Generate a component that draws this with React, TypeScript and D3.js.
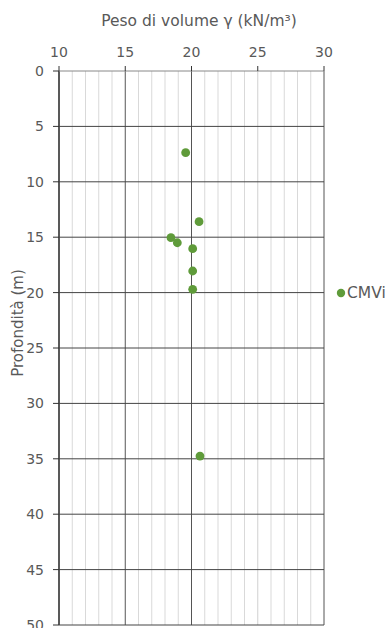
import React from "react";
import * as d3 from "d3";

const W = 391;
const H = 628;

const xTicks = [10, 15, 20, 25, 30];
const yTicks = [0, 5, 10, 15, 20, 25, 30, 35, 40, 45, 50];
const seriesName = "CMVi";
const pesoValues = [19.56, 20.57, 18.45, 18.93, 20.09, 20.09, 20.09, 20.64];
const depthValues = [7.37, 13.6, 15.04, 15.5, 16.04, 18.05, 19.7, 34.75];

const xTitle = "Peso di volume γ (kN/m³)";
const yTitle = "Profondità (m)";

const FONT = "'DejaVu Sans', sans-serif";
const TEXT = "#595959";
const GREEN = "#5f9b3a";

export default function App() {
  const left = 59, right = 324, top = 71, bottom = 625;
  const x = d3.scaleLinear().domain([10, 30]).range([left, right]);
  const y = d3.scaleLinear().domain([0, 50]).range([top, bottom]);
  const minor = d3.range(10, 31, 1).filter((v) => v % 5 !== 0);

  return (
    <div style={{ position: "fixed", left: 0, top: 0 }}>
      <svg width={W} height={H} style={{ display: "block", background: "#fff" }}>
        {minor.map((v) => (
          <line key={"mv" + v} x1={x(v)} x2={x(v)} y1={top} y2={bottom} stroke="#d9d9d9" strokeWidth={1} />
        ))}
        {xTicks.map((v) => (
          <line
            key={"Mv" + v}
            x1={x(v)}
            x2={x(v)}
            y1={top}
            y2={bottom}
            stroke={v === 25 ? "#d0d0d0" : v === 10 ? "#222" : "#555"}
            strokeWidth={v === 10 ? 1.5 : 1}
          />
        ))}
        {yTicks.map((v) => (
          <line key={"h" + v} x1={left} x2={right} y1={y(v)} y2={y(v)} stroke={v === 0 ? "#888" : "#444"} strokeWidth={1} />
        ))}
        {xTicks.map((v) => (
          <line key={"xt" + v} x1={x(v)} x2={x(v)} y1={top - 5} y2={top} stroke="#333" strokeWidth={1} />
        ))}
        {yTicks.map((v) => (
          <line key={"yt" + v} x1={left - 6} x2={left} y1={y(v)} y2={y(v)} stroke="#333" strokeWidth={1} />
        ))}
        {xTicks.map((v) => (
          <text key={"xl" + v} x={x(v)} y={57} textAnchor="middle" fontFamily={FONT} fontSize={14} fill={TEXT}>
            {v}
          </text>
        ))}
        {yTicks.map((v) => (
          <text key={"yl" + v} x={44} y={y(v)} dy="0.35em" textAnchor="end" fontFamily={FONT} fontSize={14} fill={TEXT}>
            {v}
          </text>
        ))}
        <text x={199} y={26} textAnchor="middle" fontFamily={FONT} fontSize={15.5} fill={TEXT}>
          {xTitle}
        </text>
        <text
          transform={`translate(23,323) rotate(-90)`}
          textAnchor="middle"
          fontFamily={FONT}
          fontSize={15}
          fill={TEXT}
        >
          {yTitle}
        </text>
        {pesoValues.map((v, i) => (
          <circle key={"p" + i} cx={x(v)} cy={y(depthValues[i])} r={4.4} fill={GREEN} />
        ))}
        <circle cx={341} cy={293} r={4.2} fill={GREEN} />
        <text x={347} y={293} dy="0.35em" fontFamily={FONT} fontSize={15.5} fill={TEXT}>
          {seriesName}
        </text>
      </svg>
    </div>
  );
}
